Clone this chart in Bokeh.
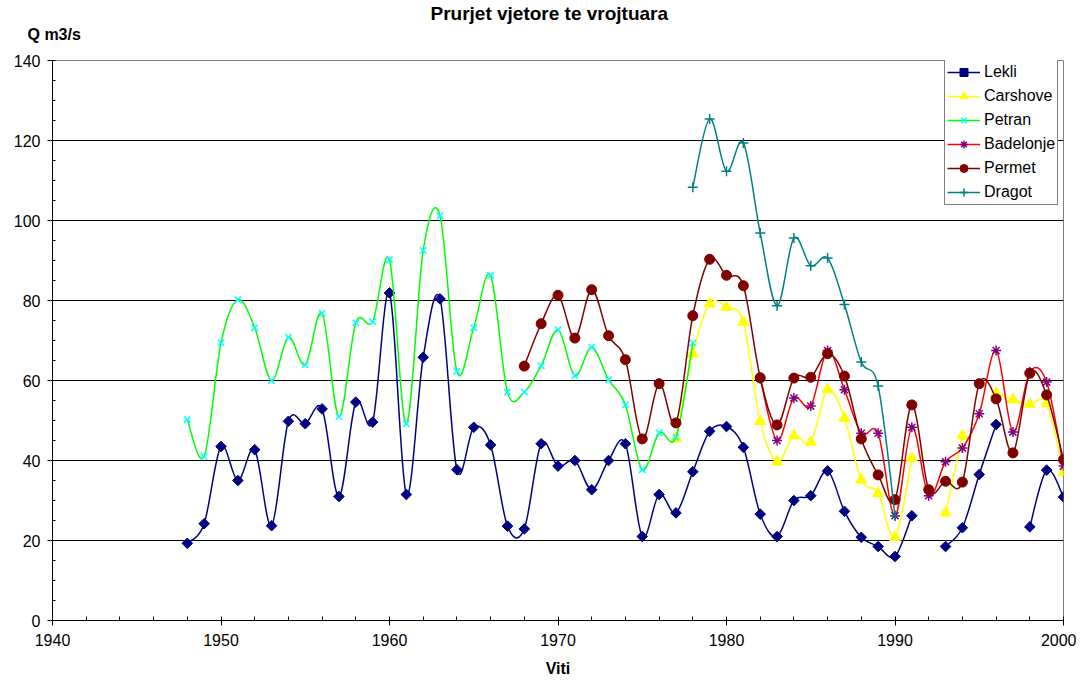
import math
from bokeh.plotting import figure
from bokeh.models import (Range1d, SingleIntervalTicker, Legend, LegendItem, Title,
                          ColumnDataSource)
from bokeh.embed import file_html
from bokeh.resources import INLINE

# ---------------- data ----------------
years = list(range(1948, 2001))

lekli = [19.3, 24.2, 43.5, 35.0, 42.7, 23.7, 49.8, 49.2, 52.9, 31.0,
         54.6, 49.6, 81.9, 31.5, 65.8, 80.4, 37.7, 48.3, 43.9, 23.6,
         22.9, 44.2, 38.6, 40.0, 32.7, 40.0, 44.2, 21.0, 31.5, 26.9,
         37.2, 47.3, 48.5, 43.3, 26.6, 21.0, 30.0, 31.2, 37.4, 27.3,
         20.8, 18.5, 16.0, 26.2, None, 18.5, 23.2, 36.5, 49.0, None,
         23.4, 37.6, 30.9]

carshove = [None] * 29 + [45.4,
            66.7, 79.2, 78.3, 74.6, 49.8, 39.7, 46.2, 44.6, 57.7, 50.6,
            35.2, 31.8, 20.8, 40.6, None, 26.9, 46.2, None, 56.8, 55.2,
            54.0, 54.3, 37.1]

petran = [50.2, 41.0, 69.4, 80.2, 73.2, 60.0, 70.8, 63.9, 76.8, 51.0,
          74.4, 74.7, 90.2, 49.2, 92.5, 101.2, 62.3, 73.2, 86.3, 57.1,
          57.1, 63.7, 72.7, 61.2, 68.3, 60.2, 53.9, 37.7, 46.9, 45.8,
          69.4] + [None] * 22

badelonje = [None] * 34 + [60.5, 45.0, 55.6, 53.6, 67.5, 57.7,
             46.8, 46.8, 26.2, 48.3, 31.2, 39.7, 43.1, 51.7, 67.5, 47.1,
             62.1, 59.6, 38.6]

permet = [None] * 20 + [63.6, 74.2, 81.3, 70.6, 82.7, 71.2, 65.2, 45.4,
          59.2, 49.4, 76.2, 90.3, 86.3, 83.7, 60.7, 48.9, 60.6, 60.8, 66.7,
          61.1, 45.4, 36.4, 30.2, 53.9, 32.7, 34.8, 34.6, 59.2, 55.4, 41.9,
          61.8, 56.4, 40.2]

dragot = [None] * 30 + [108.3, 125.4, 112.3, 119.4, 96.9, 78.7, 95.6, 88.7,
          90.6, 79.0, 64.6, 58.6, 26.2] + [None] * 10

series_names = ["Lekli", "Carshove", "Petran", "Badelonje", "Permet", "Dragot"]
series_values = [lekli, carshove, petran, badelonje, permet, dragot]

chart_title = "Prurjet vjetore te vrojtuara"
y_caption = "Q m3/s"
x_caption = "Viti"

line_colors = ["#000080", "#FFFF00", "#00FF00", "#FF0000", "#800000", "#008080"]
marker_colors = ["#000080", "#FFFF00", "#00FFFF", "#800080", "#800000", "#008080"]
marker_types = ["square", "triangle", "x", "asterisk", "circle", "cross"]
marker_sizes = [7.5, 11, 9, 10, 10, 10]
marker_angles = [math.pi / 4, 0, 0, 0, 0, 0]

FONT = "Liberation Sans"

# ---------------- figure ----------------
p = figure(width=1076, height=681, output_backend="svg", toolbar_location=None,
           x_range=Range1d(1940, 2000), y_range=Range1d(0, 140),
           min_border_left=52, min_border_right=13, min_border_top=60,
           min_border_bottom=61)
p.background_fill_color = "white"
p.border_fill_color = "white"
p.outline_line_color = "#808080"
p.outline_line_width = 1

p.xgrid.visible = False
p.ygrid.grid_line_color = "#000000"
p.ygrid.grid_line_width = 1
p.ygrid.ticker = SingleIntervalTicker(interval=20, num_minor_ticks=4)

p.xaxis.ticker = SingleIntervalTicker(interval=10, num_minor_ticks=5)
p.yaxis.ticker = SingleIntervalTicker(interval=20, num_minor_ticks=4)

for ax in (p.xaxis[0], p.yaxis[0]):
    ax.axis_line_color = "#000000"
    ax.major_tick_line_color = "#000000"
    ax.minor_tick_line_color = "#000000"
    ax.major_label_text_font = FONT
    ax.major_label_text_font_size = "16px"
    ax.major_label_text_color = "#000000"

p.xaxis.major_tick_out = 5
p.xaxis.major_tick_in = 3
p.xaxis.minor_tick_out = 0
p.xaxis.minor_tick_in = 4
p.xaxis.major_label_standoff = 8
p.xaxis.axis_label = x_caption
p.xaxis.axis_label_text_font = FONT
p.xaxis.axis_label_text_font_style = "bold"
p.xaxis.axis_label_text_font_size = "16px"
p.xaxis.axis_label_text_color = "#000000"
p.xaxis.axis_label_standoff = 11

p.yaxis.major_tick_out = 5
p.yaxis.major_tick_in = 0
p.yaxis.minor_tick_out = 0
p.yaxis.minor_tick_in = 3
p.yaxis.major_label_standoff = 7


def runs(xs, ys):
    out, cx, cy = [], [], []
    for x, y in zip(xs, ys):
        if y is None:
            if cx:
                out.append((cx, cy))
            cx, cy = [], []
        else:
            cx.append(x)
            cy.append(y)
    if cx:
        out.append((cx, cy))
    return out


def smooth(xs, ys):
    d = dict(x0=[], y0=[], x1=[], y1=[], cx0=[], cy0=[], cx1=[], cy1=[])
    for rx, ry in runs(xs, ys):
        n = len(rx)
        for i in range(n - 1):
            a = max(i - 1, 0)
            b = min(i + 2, n - 1)
            d["x0"].append(rx[i]); d["y0"].append(ry[i])
            d["x1"].append(rx[i + 1]); d["y1"].append(ry[i + 1])
            d["cx0"].append(rx[i] + (rx[i + 1] - rx[a]) / 6)
            d["cy0"].append(ry[i] + (ry[i + 1] - ry[a]) / 6)
            d["cx1"].append(rx[i + 1] - (rx[b] - rx[i]) / 6)
            d["cy1"].append(ry[i + 1] - (ry[b] - ry[i]) / 6)
    return d


items = []
for name, vals, lc, mc, mt, ms, ma in zip(series_names, series_values, line_colors,
                                           marker_colors, marker_types,
                                           marker_sizes, marker_angles):
    src = ColumnDataSource(smooth(years, vals))
    bz = p.bezier("x0", "y0", "x1", "y1", "cx0", "cy0", "cx1", "cy1", source=src,
                  line_color=lc, line_width=1.5)
    px = [x for x, y in zip(years, vals) if y is not None]
    py = [y for y in vals if y is not None]
    filled = mt in ("square", "triangle", "circle")
    sc = p.scatter(px, py, marker=mt, size=ms, angle=ma,
                   fill_color=mc if filled else None,
                   line_color=mc, line_width=1 if filled else 1.5)
    items.append(LegendItem(label=name, renderers=[bz, sc]))

legend = Legend(items=items, location=(892, 415))
legend.label_text_font = FONT
legend.label_text_font_size = "16px"
legend.label_text_color = "#000000"
legend.glyph_width = 33
legend.glyph_height = 20
legend.label_height = 20
legend.label_standoff = 4
legend.spacing = 4
legend.padding = 2
legend.margin = 0
legend.border_line_color = "#000000"
legend.border_line_width = 1
legend.background_fill_color = "white"
legend.background_fill_alpha = 1
p.add_layout(legend, "center")

# axis caption (inner slot, blank second line lifts it) then chart title (outer)
p.add_layout(Title(text=y_caption + "\n ", align="left", offset=-25,
                   vertical_align="top", standoff=0, text_line_height=0.95,
                   text_font=FONT, text_font_style="bold", text_font_size="16px",
                   text_color="#000000"), "above")
p.add_layout(Title(text=chart_title, align="left", offset=378,
                   vertical_align="top", standoff=0, text_font=FONT,
                   text_font_style="bold", text_font_size="19px",
                   text_color="#000000"), "above")

open("out.html", "w").write(file_html(p, INLINE))
